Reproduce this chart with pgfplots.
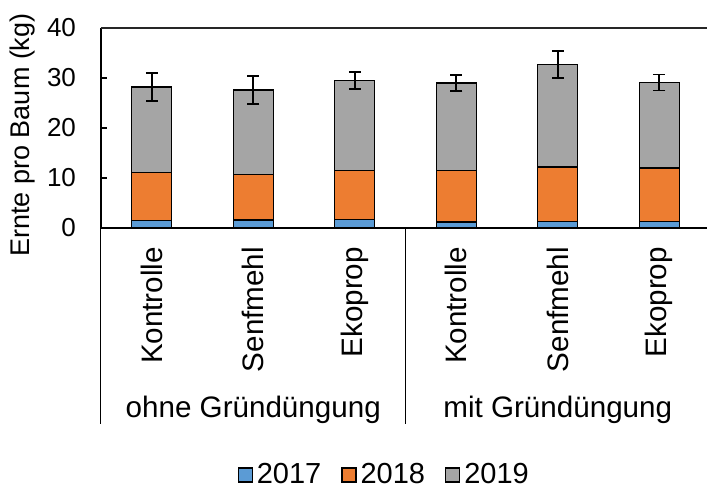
\documentclass[border=0pt]{standalone}
\usepackage{fontspec}
\setmainfont{Liberation Sans}
\usepackage{pgfplots}
\pgfplotsset{compat=1.18}
\definecolor{c2017}{RGB}{91,155,213}
\definecolor{c2018}{RGB}{237,125,49}
\definecolor{c2019}{RGB}{165,165,165}

\begin{document}
\begin{tikzpicture}
\begin{axis}[
    scale only axis,
    width=303pt, height=100pt,
    xmin=-0.5, xmax=5.47,
    ymin=0, ymax=40,
    ybar stacked,
    bar width=20pt,
    axis x line*=bottom,
    axis y line*=left,
    axis line style={black, line width=1pt},
    x axis line style={line width=1.3pt, -},
    y axis line style={-},
    xtick={0,1,2,3,4,5},
    xticklabels={Kontrolle,Senfmehl,Ekoprop,Kontrolle,Senfmehl,Ekoprop},
    major x tick style={draw=none},
    xticklabel style={rotate=90, anchor=east, xshift=-6pt, font=\fontsize{14.8}{17}\selectfont},
    ytick={0,10,20,30,40},
    tick align=inside,
    major tick length=3pt,
    major y tick style={black, line width=0.75pt},
    yticklabel style={xshift=-9pt, font=\fontsize{13}{15}\selectfont},
    /pgf/number format/assume math mode=true,
    ylabel={Ernte pro Baum (kg)},
    ylabel style={at={(axis description cs:-0.130,0.465)}, anchor=center, font=\fontsize{13.5}{16}\selectfont},
    clip=false,
    legend columns=3,
    legend style={at={(0.469,-1.235)}, anchor=center, draw=none, fill=none,
        font=\fontsize{14.5}{16}\selectfont,
        /tikz/every even column/.append style={column sep=8pt}},
    legend image code/.code={\draw[#1, draw=black, line width=0.6pt] (0pt,-3.5pt) rectangle (7pt,3.5pt);},
]
\addplot[fill=c2017, draw=black, line width=0.7pt] coordinates {
    (0,1.5) (1,1.6) (2,1.7) (3,1.2) (4,1.3) (5,1.3)};
\addlegendentry{2017}
\addplot[fill=c2018, draw=black, line width=0.7pt] coordinates {
    (0,9.6) (1,9.1) (2,9.8) (3,10.3) (4,10.9) (5,10.7)};
\addlegendentry{2018}
\addplot[fill=c2019, draw=black, line width=0.7pt,
    error bars/.cd, y dir=both, y explicit,
    error bar style={black, line width=0.8pt},
    error mark options={rotate=90, mark size=3pt, line width=0.8pt, black}]
    coordinates {
    (0,17.1) +- (0,2.8)
    (1,16.9) +- (0,2.8)
    (2,18.0) +- (0,1.7)
    (3,17.5) +- (0,1.6)
    (4,20.5) +- (0,2.7)
    (5,17.1) +- (0,1.6)};
\addlegendentry{2019}

% top border of the plot area
\draw[black!85, line width=1pt] (rel axis cs:0,1) -- (rel axis cs:1,1);
% group separators below the axis
\draw[black, line width=0.5pt] (axis cs:-0.5,0) -- (axis cs:-0.5,-39.2);
\draw[black, line width=0.5pt] (axis cs:2.5,0) -- (axis cs:2.5,-39.2);
% group labels
\node[font=\fontsize{14.8}{17}\selectfont] at (axis cs:1,-36.3) {ohne Gründüngung};
\node[font=\fontsize{14.8}{17}\selectfont] at (axis cs:4,-36.3) {mit Gründüngung};

\coordinate (O) at (axis cs:-0.5,0);
\end{axis}
\pgfresetboundingbox
\path[use as bounding box] (O) ++(-50.5pt,114pt) rectangle ++(354pt,-244pt);
\end{tikzpicture}
\end{document}
